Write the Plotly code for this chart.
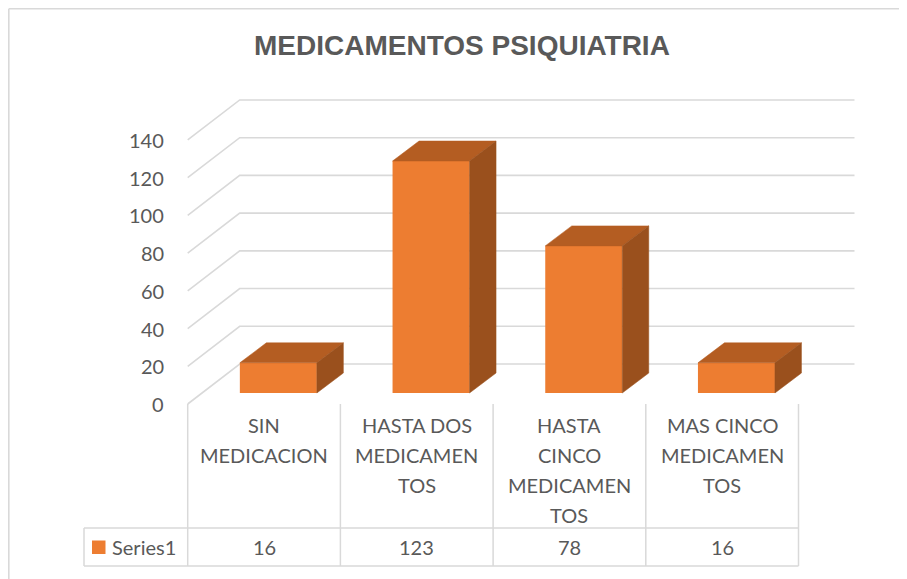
import plotly.graph_objects as go

# ---------------- data ----------------
title = "MEDICAMENTOS PSIQUIATRIA"
categories = ["SIN MEDICACION", "HASTA DOS MEDICAMENTOS",
              "HASTA CINCO MEDICAMENTOS", "MAS CINCO MEDICAMENTOS"]
category_lines = [["SIN", "MEDICACION"],
                  ["HASTA DOS", "MEDICAMEN", "TOS"],
                  ["HASTA", "CINCO", "MEDICAMEN", "TOS"],
                  ["MAS CINCO", "MEDICAMEN", "TOS"]]
series_name = "Series1"
values = [16, 123, 78, 16]
y_ticks = [0, 20, 40, 60, 80, 100, 120, 140]

# ---------------- geometry (screen pixels) ----------------
W, H = 907, 579
OFF = 8             # page body margin
CAT_PX = 152.7      # pixels per category
UNIT_PX = 1.886     # pixels per value unit
BAR_X0 = 202.0      # screen x of category edge (-0.5) on bar plane
BAR_Y0 = 393.0      # screen y of value 0 on bar plane


def X(px):
    return (px - BAR_X0) / CAT_PX - 0.5


def V(py):
    return (BAR_Y0 - py) / UNIT_PX


def DX(dpx):
    return dpx / CAT_PX


def DV(dpy):  # dpy positive = upward on screen
    return dpy / UNIT_PX


FRONT = (DX(-14.3), DV(-11))   # front plane offset relative to bar plane
BACK = (DX(37.7), DV(29))      # back wall offset
DEPTH = (DX(26.5), DV(20))     # bar depth
BAR_W = 77 / CAT_PX

FRONT_C = "#ED7D31"
TOP_C = "#B45D22"
SIDE_C = "#9A501D"
GRID_C = "#D9D9D9"
TEXT_C = "#595959"
FONT = "Lato"

n = len(categories)
xs = list(range(n))

fig = go.Figure()

# gridlines: diagonal on left side wall + horizontal on back wall
shapes = []
for t in y_ticks:
    x_l = -0.5
    fx, fy = x_l + FRONT[0], t + FRONT[1]
    bx, by = x_l + BACK[0], t + BACK[1]
    ex = (n - 0.5) + BACK[0] + DX(4)
    shapes.append(dict(type="path", xref="x", yref="y", layer="below",
                       path=f"M {fx},{fy} L {bx},{by} L {ex},{by}",
                       line=dict(color=GRID_C, width=1.6)))

# front bar faces
fig.add_trace(go.Bar(x=xs, y=values, width=BAR_W, marker=dict(color=FRONT_C, line=dict(width=0)),
                     name=series_name, showlegend=False, hoverinfo="skip"))

# top and side faces
for x, v in zip(xs, values):
    l, r = x - BAR_W / 2, x + BAR_W / 2
    dx, dv = DEPTH
    fig.add_trace(go.Scatter(x=[l, r, r + dx, l + dx, l], y=[v, v, v + dv, v + dv, v],
                             fill="toself", fillcolor=TOP_C, mode="lines",
                             line=dict(width=0.5, color=TOP_C), showlegend=False, hoverinfo="skip"))
    fig.add_trace(go.Scatter(x=[r, r + dx, r + dx, r, r], y=[0, dv, v + dv, v, 0],
                             fill="toself", fillcolor=SIDE_C, mode="lines",
                             line=dict(width=0.5, color=SIDE_C), showlegend=False, hoverinfo="skip"))

annotations = []
# y tick labels
for t in y_ticks:
    annotations.append(dict(x=-0.5 + FRONT[0] - DX(22), y=t + FRONT[1], xref="x", yref="y",
                            text=str(t), showarrow=False, xanchor="right", yanchor="middle",
                            font=dict(family=FONT, size=20, color=TEXT_C)))

# data table
TABLE_LINE = "#D9D9D9"
tbl_top = 0 + FRONT[1]
row_mid = V(528)
row_bot = V(566)
left_legend = X(84)
for i in range(n + 1):
    xe = i - 0.5 + FRONT[0]
    shapes.append(dict(type="line", xref="x", yref="y", x0=xe, x1=xe, y0=tbl_top, y1=row_bot,
                       line=dict(color=TABLE_LINE, width=1.5)))
right_edge = n - 0.5 + FRONT[0]
for yy in (row_mid, row_bot):
    shapes.append(dict(type="line", xref="x", yref="y", x0=left_legend, x1=right_edge, y0=yy, y1=yy,
                       line=dict(color=TABLE_LINE, width=1.5)))
shapes.append(dict(type="line", xref="x", yref="y", x0=left_legend, x1=left_legend, y0=row_mid, y1=row_bot,
                   line=dict(color=TABLE_LINE, width=1.5)))
# legend key
shapes.append(dict(type="rect", xref="x", yref="y", x0=X(92), x1=X(105.5), y0=V(554), y1=V(540.5),
                   fillcolor=FRONT_C, line=dict(width=0)))
annotations.append(dict(x=X(110), y=V(547), xref="x", yref="y", text=series_name, showarrow=False,
                        xanchor="left", yanchor="middle", font=dict(family=FONT, size=20, color=TEXT_C)))

for i, (lines, v) in enumerate(zip(category_lines, values)):
    cx = i + FRONT[0]
    for j, ln in enumerate(lines):
        annotations.append(dict(x=cx, y=V(425 + 30 * j), xref="x", yref="y", text=ln, showarrow=False,
                                xanchor="center", yanchor="middle",
                                font=dict(family=FONT, size=20, color=TEXT_C)))
    annotations.append(dict(x=cx, y=V(547), xref="x", yref="y", text=str(v), showarrow=False,
                            xanchor="center", yanchor="middle", font=dict(family=FONT, size=20, color=TEXT_C)))

# title
annotations.append(dict(x=X(462), y=V(45), xref="x", yref="y", text=f"<b>{title}</b>", showarrow=False,
                        xanchor="center", yanchor="middle",
                        font=dict(family="Liberation Sans, Arial", size=28, color=TEXT_C)))

# chart border (left and top visible)
shapes.append(dict(type="line", xref="x", yref="y", x0=X(OFF + 0.8), x1=X(OFF + 0.8), y0=V(H + OFF), y1=V(OFF + 0.8),
                   line=dict(color=GRID_C, width=1.6)))
shapes.append(dict(type="line", xref="x", yref="y", x0=X(OFF + 0.8), x1=X(W + OFF), y0=V(OFF + 0.8), y1=V(OFF + 0.8),
                   line=dict(color=GRID_C, width=1.6)))

fig.update_layout(
    width=W, height=H,
    margin=dict(l=0, r=0, t=0, b=0),
    paper_bgcolor="white", plot_bgcolor="white",
    # the figure starts OFF pixels into the page; axes cover the whole figure
    xaxis=dict(range=[X(OFF), X(W + OFF)], visible=False, fixedrange=True),
    yaxis=dict(range=[V(H + OFF), V(OFF)], visible=False, fixedrange=True),
    shapes=shapes, annotations=annotations, showlegend=False,
)

fig.write_html("out.html")
